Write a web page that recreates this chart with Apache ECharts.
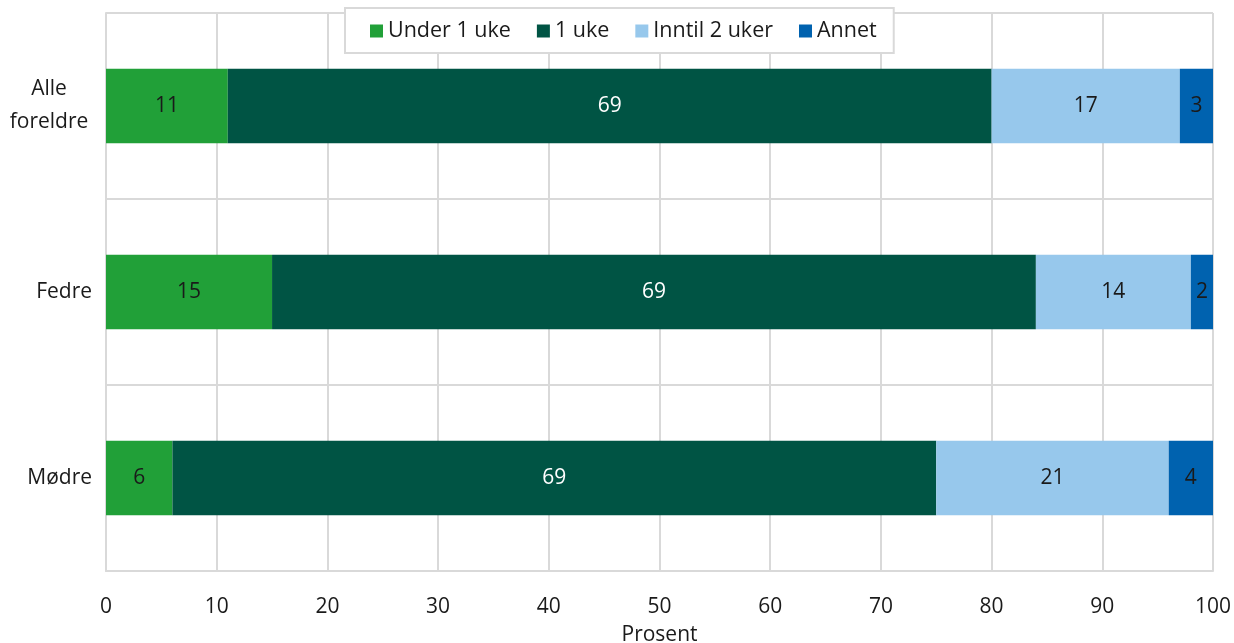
<!DOCTYPE html>
<html><head><meta charset="utf-8">
<script src="https://cdn.jsdelivr.net/npm/echarts@6/dist/echarts.min.js"></script>
<style>html,body{margin:0;padding:0;background:#fff}#c{width:1234px;height:643px}</style>
</head><body><div id="c"></div>
<script>
const categories = ['Alle foreldre', 'Fedre', 'Mødre'];
const seriesNames = ['Under 1 uke', '1 uke', 'Inntil 2 uker', 'Annet'];
const under1uke = [11, 15, 6];
const enUke = [69, 69, 69];
const inntil2uker = [17, 14, 21];
const annet = [3, 2, 4];
const xTicks = [0, 10, 20, 30, 40, 50, 60, 70, 80, 90, 100];
const colors = ['#21a038', '#005444', '#97c8ec', '#0062af'];
const labelColors = ['#1a1a1a', '#ffffff', '#1a1a1a', '#1a1a1a'];
const values = [under1uke, enUke, inntil2uker, annet];
const font = '"Open Sans", "Noto Sans", sans-serif';
const FS = 21;

const chart = echarts.init(document.getElementById('c'));
chart.setOption({
  animation: false,
  textStyle: {fontFamily: font},
  grid: {left: 106, right: 21, top: 13, bottom: 72, containLabel: false, outerBoundsMode: 'none'},
  legend: {
    top: 8, left: 345,
    itemWidth: 13, itemHeight: 13, itemGap: 26,
    icon: 'rect',
    padding: [12, 17, 11, 25],
    borderColor: '#d9d9d9', borderWidth: 2,
    backgroundColor: '#fff',
    textStyle: {fontFamily: font, fontSize: 21.5, color: '#1a1a1a'},
    data: seriesNames,
    z: 10
  },
  xAxis: {
    type: 'value', min: 0, max: 100, interval: 10,
    name: 'Prosent', nameLocation: 'middle', nameGap: 54,
    nameTextStyle: {fontFamily: font, fontSize: FS, color: '#1a1a1a'},
    axisLine: {show: true, lineStyle: {color: '#d9d9d9', width: 2}},
    axisTick: {show: false},
    axisLabel: {fontFamily: font, fontSize: FS, color: '#1a1a1a', margin: 26,
      formatter: v => xTicks.includes(v) ? String(v) : ''},
    splitLine: {show: true, lineStyle: {color: '#d9d9d9', width: 2}}
  },
  yAxis: {
    type: 'category', data: categories, inverse: true,
    axisLine: {show: true, lineStyle: {color: '#d9d9d9', width: 2}},
    axisTick: {show: false},
    axisLabel: {fontFamily: font, fontSize: FS, color: '#1a1a1a', margin: 14,
      formatter: v => v.indexOf(' ') > 0 ? v.split(' ').map(w => '{c|' + w + '}').join('\n') : v,
      rich: {c: {fontFamily: font, fontSize: FS, color: '#1a1a1a', width: 86, align: 'center', lineHeight: 33}}},
    splitLine: {show: true, lineStyle: {color: '#d9d9d9', width: 2}}
  },
  series: seriesNames.map((n, i) => ({
    name: n, type: 'bar', stack: 'total', barWidth: '40%',
    data: values[i],
    itemStyle: {color: colors[i]},
    label: {show: true, position: 'inside', fontFamily: font, fontSize: FS, color: labelColors[i]}
  }))
});
</script></body></html>
